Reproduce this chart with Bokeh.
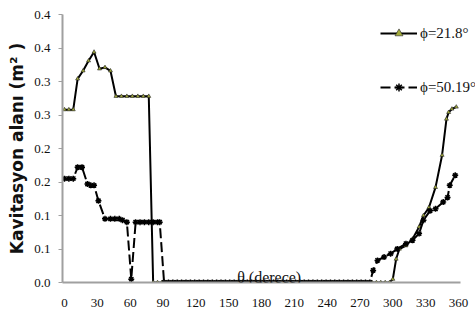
from bokeh.plotting import figure
from bokeh.models import FixedTicker, Legend, LegendItem, Label, Range1d
from bokeh.embed import file_html
from bokeh.resources import INLINE

# ---- data ----
theta1_a = [0, 4, 8, 12, 17, 22, 27, 32, 37, 42, 47, 52, 57, 62, 67, 72, 77]
area1_a = [0.258, 0.258, 0.258, 0.304, 0.316, 0.331, 0.344, 0.319, 0.321, 0.316,
           0.278, 0.278, 0.278, 0.278, 0.278, 0.278, 0.278]
theta1_b = [81, 85, 89, 93, 97, 101, 105, 109, 113, 117,
            121, 125, 129, 133, 137, 141, 145, 149, 153, 157,
            161, 165, 169, 173, 177, 181, 185, 189, 193, 197,
            201, 205, 209, 213, 217, 221, 225, 229, 233, 237,
            241, 245, 249, 253, 257, 261, 265, 269, 273, 277,
            281, 285, 289, 293, 297]
area1_b = [0.0, 0.0, 0.0, 0.0, 0.0, 0.0, 0.0, 0.0, 0.0, 0.0,
           0.0, 0.0, 0.0, 0.0, 0.0, 0.0, 0.0, 0.0, 0.0, 0.0,
           0.0, 0.0, 0.0, 0.0, 0.0, 0.0, 0.0, 0.0, 0.0, 0.0,
           0.0, 0.0, 0.0, 0.0, 0.0, 0.0, 0.0, 0.0, 0.0, 0.0,
           0.0, 0.0, 0.0, 0.0, 0.0, 0.0, 0.0, 0.0, 0.0, 0.0,
           0.0, 0.0, 0.0, 0.0, 0.0]
theta1_c = [300, 303, 306, 312, 318, 324, 328, 333, 339, 345, 349, 351, 354, 358]
area1_c = [0.005, 0.035, 0.05, 0.055, 0.065, 0.083, 0.1, 0.112, 0.142, 0.19,
           0.244, 0.254, 0.259, 0.262]

theta2_a = [0, 4, 8, 12, 16, 21, 24, 27, 31, 37, 42, 46, 50, 53, 57, 61, 65,
            69, 73, 77, 81, 85, 87]
area2_a = [0.155, 0.155, 0.155, 0.172, 0.172, 0.147, 0.145, 0.145, 0.122, 0.095,
           0.095, 0.095, 0.095, 0.093, 0.09, 0.005, 0.09, 0.09, 0.09, 0.09,
           0.09, 0.09, 0.09]
theta2_b = [91, 95, 99, 103, 107, 111, 115, 119, 123, 127,
            131, 135, 139, 143, 147, 151, 155, 159, 163, 167,
            171, 175, 179, 183, 187, 191, 195, 199, 203, 207,
            211, 215, 219, 223, 227, 231, 235, 239, 243, 247,
            251, 255, 259, 263, 267, 271, 275, 279]
area2_b = [0.0, 0.0, 0.0, 0.0, 0.0, 0.0, 0.0, 0.0, 0.0, 0.0,
           0.0, 0.0, 0.0, 0.0, 0.0, 0.0, 0.0, 0.0, 0.0, 0.0,
           0.0, 0.0, 0.0, 0.0, 0.0, 0.0, 0.0, 0.0, 0.0, 0.0,
           0.0, 0.0, 0.0, 0.0, 0.0, 0.0, 0.0, 0.0, 0.0, 0.0,
           0.0, 0.0, 0.0, 0.0, 0.0, 0.0, 0.0, 0.0]
theta2_c = [282, 286, 292, 298, 304, 312, 318, 324, 328, 334, 339, 346, 350, 352, 357]
area2_c = [0.018, 0.033, 0.038, 0.043, 0.05, 0.058, 0.063, 0.073, 0.093, 0.107,
           0.11, 0.12, 0.127, 0.145, 0.16]

theta1 = theta1_a + theta1_b + theta1_c
area1 = area1_a + area1_b + area1_c
theta2 = theta2_a + theta2_b + theta2_c
area2 = area2_a + area2_b + area2_c

series_names = ["ϕ=21.8°", "ϕ=50.19°"]
x_ticks = [0, 30, 60, 90, 120, 150, 180, 210, 240, 270, 300, 330, 360]
y_ticks = [0.0, 0.05, 0.1, 0.15, 0.2, 0.25, 0.3, 0.35, 0.4]
y_tick_labels = ["0.0", "0.1", "0.1", "0.2", "0.2", "0.3", "0.3", "0.4", "0.4"]
y_title = "Kavitasyon alanı (m² )"
x_title = "θ (derece)"

TICK_FONT = "Liberation Sans Narrow"

# frame: left 62, top 14, bottom 282, right = figure edge; 0 deg at 64, 360 deg at 458
px_per_deg = 394 / 360
x_start = -2 / px_per_deg
x_end = x_start + 413 / px_per_deg

p = figure(width=475, height=326, output_backend="svg", toolbar_location=None,
           x_range=Range1d(x_start, x_end), y_range=Range1d(0, 0.4),
           min_border_left=62, min_border_right=0, min_border_top=14,
           min_border_bottom=44)
p.outline_line_color = None
p.xgrid.visible = False
p.ygrid.visible = False
p.background_fill_color = "white"

# axes
for ax in (p.xaxis[0], p.yaxis[0]):
    ax.axis_line_color = "#a0a0a0"
    ax.axis_line_width = 2
    ax.minor_tick_line_color = None
    ax.major_label_text_font = TICK_FONT
    ax.major_label_text_font_size = "13px"
    ax.major_label_text_color = "#111111"

p.xaxis.ticker = FixedTicker(ticks=x_ticks)
p.xaxis.bounds = (x_start, 361.8)
p.xaxis.major_tick_line_color = None
p.xaxis.major_tick_out = 0
p.xaxis.major_tick_in = 0
p.xaxis.major_label_standoff = 16

p.yaxis.ticker = FixedTicker(ticks=y_ticks)
p.yaxis.major_label_overrides = {t: s for t, s in zip(y_ticks, y_tick_labels)}
p.yaxis.major_tick_line_color = "#a0a0a0"
p.yaxis.major_tick_line_width = 1
p.yaxis.major_tick_out = 4
p.yaxis.major_tick_in = 0
p.yaxis.major_label_standoff = 8
p.yaxis.axis_label = y_title
p.yaxis.axis_label_text_font = "DejaVu Sans"
p.yaxis.axis_label_text_font_style = "bold"
p.yaxis.axis_label_text_font_size = "17px"
p.yaxis.axis_label_text_color = "#111111"
p.yaxis.axis_label_standoff = 4

# series
l1 = p.line(theta1, area1, line_color="black", line_width=2)
s1 = p.scatter(theta1, area1, marker="triangle", size=4, fill_color="#a4ac3c",
               line_color="#222222", line_width=0.6)
l2 = p.line(theta2, area2, line_color="black", line_width=2, line_dash="10 4")
s2 = p.scatter(theta2, area2, marker="asterisk", size=6, line_color="black",
               line_width=1.5)

p.add_layout(Label(x=187, y=0.0075, text=x_title, text_align="center",
                   text_baseline="alphabetic", text_font=TICK_FONT,
                   text_font_size="16px", text_color="#111111"))

legend = Legend(items=[LegendItem(label=series_names[0], renderers=[l1, s1]),
                       LegendItem(label=series_names[1], renderers=[l2, s2])],
                location=(318, 185), glyph_width=37, glyph_height=20,
                label_height=20, label_standoff=3, spacing=34, padding=0,
                margin=0, border_line_color=None, background_fill_alpha=0,
                label_text_font=TICK_FONT, label_text_font_size="15px",
                label_text_color="#111111")
p.add_layout(legend)

open("out.html", "w").write(file_html(p, INLINE))
